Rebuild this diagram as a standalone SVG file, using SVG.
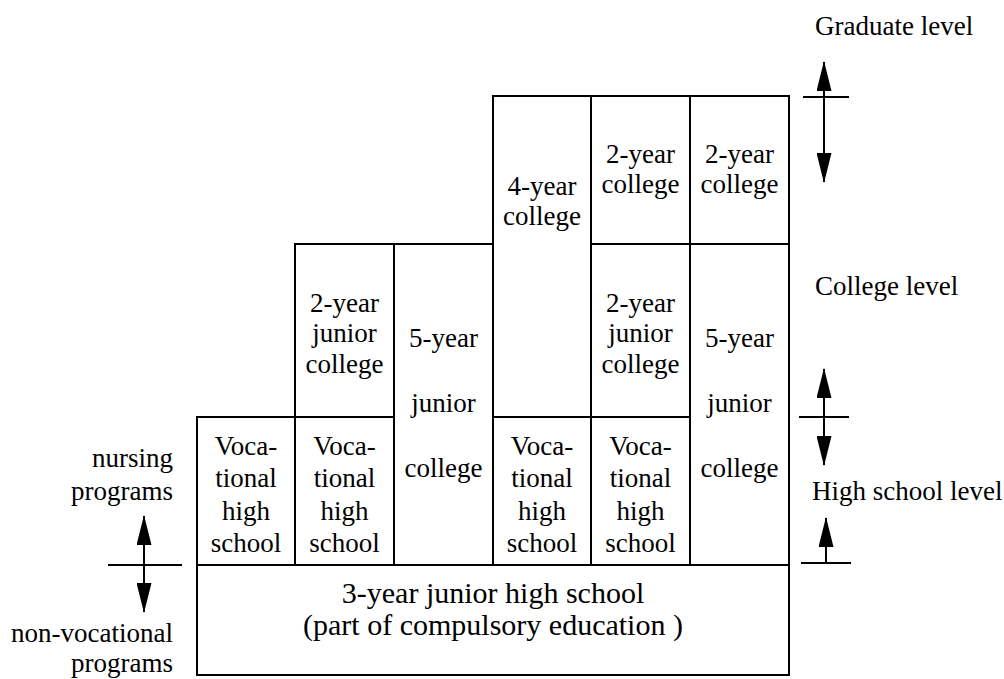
<svg xmlns="http://www.w3.org/2000/svg" width="1004" height="679" viewBox="0 0 1004 679">
<style>
.box{fill:#fff;stroke:#000;stroke-width:2}
text{font-family:'Liberation Serif','Times New Roman','DejaVu Serif','Noto Serif',serif;font-size:27px;fill:#000}
.t{text-anchor:middle}
.big{font-size:30px}
.end{text-anchor:end}
.ln{stroke:#000;stroke-width:2;fill:none}
</style>
<defs>
<marker id="ah" markerUnits="userSpaceOnUse" markerWidth="30" markerHeight="15" refX="29" refY="7.5" orient="auto-start-reverse" viewBox="0 0 30 15">
<path d="M0,0 L30,7.5 L0,15 z" fill="#000"/>
</marker>
</defs>
<rect width="1004" height="679" fill="#fff"/>
<g font-family="Liberation Serif, Times New Roman, serif">
<g id="voc1"><rect class="box" x="197" y="417" width="98" height="148"/>
<text class="t"><tspan x="246" y="455">Voca-</tspan><tspan x="246" y="487">tional</tspan><tspan x="246" y="520">high</tspan><tspan x="246" y="552">school</tspan></text></g>
<g id="jc2a"><rect class="box" x="295" y="244" width="99" height="173"/>
<text class="t"><tspan x="344.5" y="312">2-year</tspan><tspan x="344.5" y="342">junior</tspan><tspan x="344.5" y="373">college</tspan></text></g>
<g id="voc2"><rect class="box" x="295" y="417" width="99" height="148"/>
<text class="t"><tspan x="344.5" y="455">Voca-</tspan><tspan x="344.5" y="487">tional</tspan><tspan x="344.5" y="520">high</tspan><tspan x="344.5" y="552">school</tspan></text></g>
<g id="jc5a"><rect class="box" x="394" y="244" width="99" height="321"/>
<text class="t"><tspan x="443.5" y="347">5-year</tspan><tspan x="443.5" y="412">junior</tspan><tspan x="443.5" y="477">college</tspan></text></g>
<g id="c4"><rect class="box" x="493" y="96" width="98" height="321"/>
<text class="t"><tspan x="542" y="195">4-year</tspan><tspan x="542" y="225">college</tspan></text></g>
<g id="voc3"><rect class="box" x="493" y="417" width="98" height="148"/>
<text class="t"><tspan x="542" y="455">Voca-</tspan><tspan x="542" y="487">tional</tspan><tspan x="542" y="520">high</tspan><tspan x="542" y="552">school</tspan></text></g>
<g id="c2a"><rect class="box" x="591" y="96" width="99" height="148"/>
<text class="t"><tspan x="640.5" y="163">2-year</tspan><tspan x="640.5" y="193">college</tspan></text></g>
<g id="jc2b"><rect class="box" x="591" y="244" width="99" height="173"/>
<text class="t"><tspan x="640.5" y="312">2-year</tspan><tspan x="640.5" y="342">junior</tspan><tspan x="640.5" y="373">college</tspan></text></g>
<g id="voc4"><rect class="box" x="591" y="417" width="99" height="148"/>
<text class="t"><tspan x="640.5" y="455">Voca-</tspan><tspan x="640.5" y="487">tional</tspan><tspan x="640.5" y="520">high</tspan><tspan x="640.5" y="552">school</tspan></text></g>
<g id="c2b"><rect class="box" x="690" y="96" width="99" height="148"/>
<text class="t"><tspan x="739.5" y="163">2-year</tspan><tspan x="739.5" y="193">college</tspan></text></g>
<g id="jc5b"><rect class="box" x="690" y="244" width="99" height="321"/>
<text class="t"><tspan x="739.5" y="347">5-year</tspan><tspan x="739.5" y="412">junior</tspan><tspan x="739.5" y="477">college</tspan></text></g>
<g id="jhs"><rect class="box" x="197" y="565" width="592" height="110"/>
<text class="t big"><tspan x="493" y="603">3-year junior high school</tspan><tspan x="493" y="635">(part of compulsory education )</tspan></text></g>
<g id="labels">
<text x="815" y="35">Graduate level</text>
<text x="815" y="295">College level</text>
<text x="812" y="500">High school level</text>
<text class="end"><tspan x="173" y="467">nursing</tspan><tspan x="173" y="500">programs</tspan></text>
<text class="end"><tspan x="173" y="642">non-vocational</tspan><tspan x="173" y="672">programs</tspan></text>
</g>
</g>
<g id="connectors">
<line class="ln" x1="824" y1="62" x2="824" y2="182" marker-start="url(#ah)" marker-end="url(#ah)"/>
<line class="ln" x1="803" y1="97" x2="849" y2="97"/>
<line class="ln" x1="824" y1="369" x2="824" y2="465" marker-start="url(#ah)" marker-end="url(#ah)"/>
<line class="ln" x1="799" y1="417" x2="849" y2="417"/>
<line class="ln" x1="826" y1="518" x2="826" y2="563" marker-start="url(#ah)"/>
<line class="ln" x1="801" y1="563" x2="851" y2="563"/>
<line class="ln" x1="144" y1="516" x2="144" y2="612" marker-start="url(#ah)" marker-end="url(#ah)"/>
<line class="ln" x1="108" y1="565" x2="182" y2="565"/>
</g>
</svg>
